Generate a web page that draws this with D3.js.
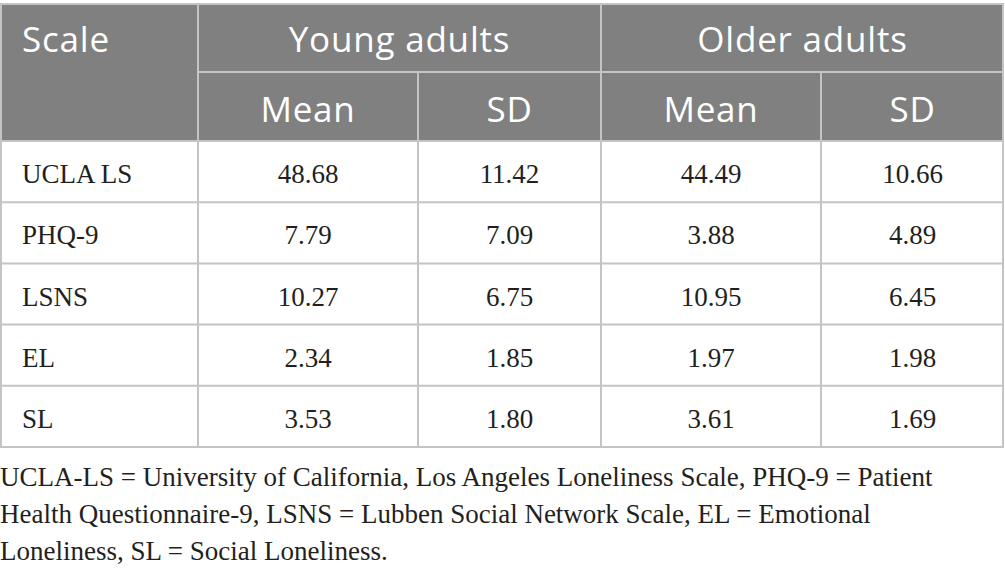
<!DOCTYPE html>
<html>
<head>
<meta charset="utf-8">
<script src="https://cdn.jsdelivr.net/npm/d3@7"></script>
<style>
  body { margin: 0; background: #fff; }
  .head { font-family: "Open Sans", sans-serif; fill: #fff; letter-spacing: 0.8px; }
  .cell { font-family: "Liberation Serif", "Times New Roman", serif; fill: #231f20; }
  .note { font-family: "Liberation Serif", "Times New Roman", serif; fill: #231f20; }
</style>
</head>
<body>
<div id="table"></div>
<script>
// table content
var scales = ["UCLA LS", "PHQ-9", "LSNS", "EL", "SL"];
var groups = ["Young adults", "Older adults"];
var stats = ["Mean", "SD"];
var youngMean = ["48.68", "7.79", "10.27", "2.34", "3.53"];
var youngSD = ["11.42", "7.09", "6.75", "1.85", "1.80"];
var olderMean = ["44.49", "3.88", "10.95", "1.97", "3.61"];
var olderSD = ["10.66", "4.89", "6.45", "1.98", "1.69"];
var noteLines = [
  "UCLA-LS = University of California, Los Angeles Loneliness Scale, PHQ-9 = Patient",
  "Health Questionnaire-9, LSNS = Lubben Social Network Scale, EL = Emotional",
  "Loneliness, SL = Social Loneliness."
];

var w = 1005;
var h = 577;
var top0 = 4;
var headH = [68, 69];
var rowH = 61.2;
var colW = [198, 220, 183, 220, 183];
var edges = [0].concat(Array.from(d3.cumsum(colW)));
var tableRight = edges[edges.length - 1];
var headBottom = top0 + headH[0] + headH[1];

var lineColor = "#c4c4c4";
var headFill = "#808080";

var svg = d3.select("#table").append("svg")
      .attr("width", w)
      .attr("height", h);

// rows of body
var y = d3.scaleBand()
      .domain(d3.range(scales.length))
      .range([headBottom, headBottom + rowH * scales.length]);

var columns = [scales, youngMean, youngSD, olderMean, olderSD];

// header background
svg.append("rect")
  .attr("x", 0)
  .attr("y", top0)
  .attr("width", tableRight)
  .attr("height", headH[0] + headH[1])
  .attr("fill", headFill);

// header texts
svg.append("text")
  .classed("head", true)
  .attr("x", 22)
  .attr("y", top0 + headH[0] / 2 + 14)
  .attr("font-size", 35)
  .text("Scale");

svg.selectAll(".group")
  .data(groups)
  .enter()
    .append("text")
    .classed("head group", true)
    .attr("x", function(d, i) { return (edges[1 + i * 2] + edges[3 + i * 2]) / 2; })
    .attr("y", top0 + headH[0] / 2 + 14)
    .attr("text-anchor", "middle")
    .attr("font-size", 35)
    .text(function(d) { return d; });

var subHeads = [];
groups.forEach(function(g, gi) {
  stats.forEach(function(s, si) {
    subHeads.push({label: s, col: 1 + gi * 2 + si});
  });
});

svg.selectAll(".stat")
  .data(subHeads)
  .enter()
    .append("text")
    .classed("head stat", true)
    .attr("x", function(d) { return (edges[d.col] + edges[d.col + 1]) / 2; })
    .attr("y", top0 + headH[0] + headH[1] / 2 + 15)
    .attr("text-anchor", "middle")
    .attr("font-size", 35)
    .text(function(d) { return d.label; });

// body cells
columns.forEach(function(col, ci) {
  svg.selectAll(".c" + ci)
    .data(col)
    .enter()
      .append("text")
      .attr("class", "cell c" + ci)
      .attr("x", ci === 0 ? 22 : (edges[ci] + edges[ci + 1]) / 2)
      .attr("y", function(d, i) { return y(i) + y.bandwidth() / 2 + 11.5; })
      .attr("text-anchor", ci === 0 ? "start" : "middle")
      .attr("font-size", 27)
      .text(function(d) { return d; });
});

// grid lines
var lines = svg.append("g")
      .attr("stroke", lineColor)
      .attr("stroke-width", 2)
      .attr("fill", "none");

var tableBottom = y.range()[1];

// horizontal
lines.append("line")
  .attr("x1", 0).attr("x2", tableRight)
  .attr("y1", top0).attr("y2", top0);
lines.append("line")
  .attr("x1", edges[1]).attr("x2", tableRight)
  .attr("y1", top0 + headH[0]).attr("y2", top0 + headH[0]);
lines.selectAll(".hrow")
  .data(d3.range(scales.length + 1))
  .enter()
    .append("line")
    .attr("x1", 0).attr("x2", tableRight)
    .attr("y1", function(d) { return d < scales.length ? y(d) : tableBottom; })
    .attr("y2", function(d) { return d < scales.length ? y(d) : tableBottom; });

// vertical
lines.selectAll(".vcol")
  .data(edges)
  .enter()
    .append("line")
    .attr("x1", function(d, i) { return i === edges.length - 1 ? d - 1 : d + (i === 0 ? 1 : 0); })
    .attr("x2", function(d, i) { return i === edges.length - 1 ? d - 1 : d + (i === 0 ? 1 : 0); })
    .attr("y1", function(d, i) {
      // sub-columns inside a group start below the group header
      return (i === 2 || i === 4) ? top0 + headH[0] : top0;
    })
    .attr("y2", tableBottom);

// footnote
svg.selectAll(".note")
  .data(noteLines)
  .enter()
    .append("text")
    .classed("note", true)
    .attr("x", 0)
    .attr("y", function(d, i) { return 486 + i * 37; })
    .attr("font-size", 27)
    .text(function(d) { return d; });
</script>
</body>
</html>
